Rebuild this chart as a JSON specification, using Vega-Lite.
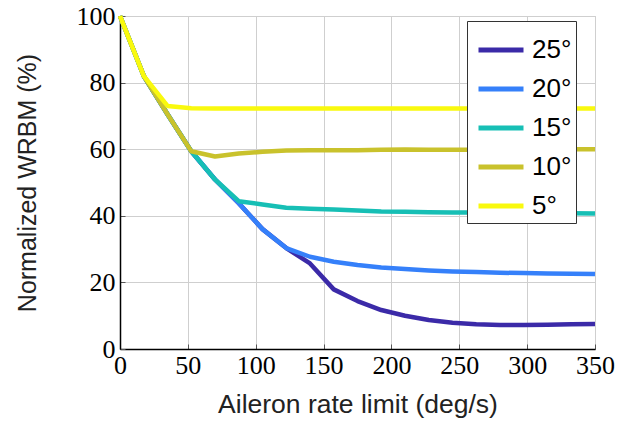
{
  "$schema": "https://vega.github.io/schema/vega-lite/v6.json",
  "width": 475,
  "height": 333,
  "autosize": {"type": "none"},
  "padding": {"left": 120, "top": 16, "right": 35, "bottom": 81},
  "background": "white",
  "config": {
    "view": {"stroke": "#c8c8c8", "strokeWidth": 1},
    "axis": {
      "grid": true, "gridColor": "#cfcfcf", "gridWidth": 1,
      "domainColor": "#000000", "domainWidth": 1.5,
      "tickColor": "#555555", "tickSize": -5, "tickWidth": 1,
      "labelFont": "Liberation Serif", "labelFontSize": 26, "labelColor": "#000000",
      "titleFont": "Liberation Sans", "titleFontWeight": "normal", "titleColor": "#222222"
    }
  },
  "data": {
    "values": [
      {"angle": "25°", "x": 0, "y": 100}, {"angle": "25°", "x": 17.5, "y": 82}, {"angle": "25°", "x": 35, "y": 70.5}, {"angle": "25°", "x": 52.5, "y": 59.4}, {"angle": "25°", "x": 70, "y": 50.9}, {"angle": "25°", "x": 87.5, "y": 43.8}, {"angle": "25°", "x": 105, "y": 36}, {"angle": "25°", "x": 122.5, "y": 30.3}, {"angle": "25°", "x": 140, "y": 25.7}, {"angle": "25°", "x": 157.5, "y": 17.9}, {"angle": "25°", "x": 175, "y": 14.4}, {"angle": "25°", "x": 192.5, "y": 11.7}, {"angle": "25°", "x": 210, "y": 10}, {"angle": "25°", "x": 227.5, "y": 8.7}, {"angle": "25°", "x": 245, "y": 7.9}, {"angle": "25°", "x": 262.5, "y": 7.4}, {"angle": "25°", "x": 280, "y": 7.2}, {"angle": "25°", "x": 297.5, "y": 7.2}, {"angle": "25°", "x": 315, "y": 7.3}, {"angle": "25°", "x": 332.5, "y": 7.4}, {"angle": "25°", "x": 350, "y": 7.5},
      {"angle": "20°", "x": 0, "y": 100}, {"angle": "20°", "x": 17.5, "y": 82}, {"angle": "20°", "x": 35, "y": 70.5}, {"angle": "20°", "x": 52.5, "y": 59.4}, {"angle": "20°", "x": 70, "y": 50.9}, {"angle": "20°", "x": 87.5, "y": 43.8}, {"angle": "20°", "x": 105, "y": 36}, {"angle": "20°", "x": 122.5, "y": 30.3}, {"angle": "20°", "x": 140, "y": 27.7}, {"angle": "20°", "x": 157.5, "y": 26.2}, {"angle": "20°", "x": 175, "y": 25.2}, {"angle": "20°", "x": 192.5, "y": 24.5}, {"angle": "20°", "x": 210, "y": 24}, {"angle": "20°", "x": 227.5, "y": 23.6}, {"angle": "20°", "x": 245, "y": 23.3}, {"angle": "20°", "x": 262.5, "y": 23.1}, {"angle": "20°", "x": 280, "y": 22.9}, {"angle": "20°", "x": 297.5, "y": 22.8}, {"angle": "20°", "x": 315, "y": 22.7}, {"angle": "20°", "x": 332.5, "y": 22.6}, {"angle": "20°", "x": 350, "y": 22.5},
      {"angle": "15°", "x": 0, "y": 100}, {"angle": "15°", "x": 17.5, "y": 82}, {"angle": "15°", "x": 35, "y": 70.5}, {"angle": "15°", "x": 52.5, "y": 59.4}, {"angle": "15°", "x": 70, "y": 50.9}, {"angle": "15°", "x": 87.5, "y": 44.4}, {"angle": "15°", "x": 105, "y": 43.4}, {"angle": "15°", "x": 122.5, "y": 42.4}, {"angle": "15°", "x": 140, "y": 42.1}, {"angle": "15°", "x": 157.5, "y": 41.9}, {"angle": "15°", "x": 175, "y": 41.6}, {"angle": "15°", "x": 192.5, "y": 41.3}, {"angle": "15°", "x": 210, "y": 41.2}, {"angle": "15°", "x": 227.5, "y": 41.1}, {"angle": "15°", "x": 245, "y": 41}, {"angle": "15°", "x": 262.5, "y": 41}, {"angle": "15°", "x": 280, "y": 40.9}, {"angle": "15°", "x": 297.5, "y": 40.9}, {"angle": "15°", "x": 315, "y": 40.8}, {"angle": "15°", "x": 332.5, "y": 40.8}, {"angle": "15°", "x": 350, "y": 40.7},
      {"angle": "10°", "x": 0, "y": 100}, {"angle": "10°", "x": 17.5, "y": 82}, {"angle": "10°", "x": 35, "y": 70.5}, {"angle": "10°", "x": 52.5, "y": 59.4}, {"angle": "10°", "x": 70, "y": 57.8}, {"angle": "10°", "x": 87.5, "y": 58.7}, {"angle": "10°", "x": 105, "y": 59.2}, {"angle": "10°", "x": 122.5, "y": 59.6}, {"angle": "10°", "x": 140, "y": 59.7}, {"angle": "10°", "x": 157.5, "y": 59.7}, {"angle": "10°", "x": 175, "y": 59.7}, {"angle": "10°", "x": 192.5, "y": 59.8}, {"angle": "10°", "x": 210, "y": 59.9}, {"angle": "10°", "x": 227.5, "y": 59.8}, {"angle": "10°", "x": 245, "y": 59.8}, {"angle": "10°", "x": 262.5, "y": 59.8}, {"angle": "10°", "x": 280, "y": 59.9}, {"angle": "10°", "x": 297.5, "y": 59.9}, {"angle": "10°", "x": 315, "y": 59.9}, {"angle": "10°", "x": 332.5, "y": 60}, {"angle": "10°", "x": 350, "y": 60},
      {"angle": "5°", "x": 0, "y": 100}, {"angle": "5°", "x": 17.5, "y": 82}, {"angle": "5°", "x": 35, "y": 73}, {"angle": "5°", "x": 52.5, "y": 72.3}, {"angle": "5°", "x": 70, "y": 72.2}, {"angle": "5°", "x": 87.5, "y": 72.2}, {"angle": "5°", "x": 105, "y": 72.2}, {"angle": "5°", "x": 122.5, "y": 72.2}, {"angle": "5°", "x": 140, "y": 72.2}, {"angle": "5°", "x": 157.5, "y": 72.2}, {"angle": "5°", "x": 175, "y": 72.2}, {"angle": "5°", "x": 192.5, "y": 72.2}, {"angle": "5°", "x": 210, "y": 72.2}, {"angle": "5°", "x": 227.5, "y": 72.2}, {"angle": "5°", "x": 245, "y": 72.2}, {"angle": "5°", "x": 262.5, "y": 72.2}, {"angle": "5°", "x": 280, "y": 72.2}, {"angle": "5°", "x": 297.5, "y": 72.2}, {"angle": "5°", "x": 315, "y": 72.2}, {"angle": "5°", "x": 332.5, "y": 72.2}, {"angle": "5°", "x": 350, "y": 72.2}
    ]
  },
  "mark": {"type": "line", "strokeWidth": 4.5, "strokeJoin": "round"},
  "encoding": {
    "x": {
      "field": "x", "type": "quantitative",
      "scale": {"domain": [0, 350], "nice": false},
      "axis": {"values": [0, 50, 100, 150, 200, 250, 300, 350], "title": "Aileron rate limit (deg/s)", "titleFontSize": 26.5, "labelPadding": 8, "titlePadding": 13, "labelFlush": false}
    },
    "y": {
      "field": "y", "type": "quantitative",
      "scale": {"domain": [0, 100], "nice": false},
      "axis": {"values": [0, 20, 40, 60, 80, 100], "title": "Normalized WRBM (%)", "titleFontSize": 25, "labelPadding": 10, "titlePadding": 36, "labelFlush": false}
    },
    "color": {
      "field": "angle", "type": "nominal",
      "scale": {
        "domain": ["25°", "20°", "15°", "10°", "5°"],
        "range": ["#3b2aa8", "#3580fa", "#17bfb5", "#c9c22c", "#f9f90e"]
      },
      "legend": {
        "title": null, "orient": "none", "legendX": 347, "legendY": 5,
        "symbolType": "stroke", "symbolSize": 2025, "symbolStrokeWidth": 5,
        "symbolOffset": 5,
        "labelFont": "Liberation Sans", "labelFontSize": 26, "labelColor": "#000000",
        "labelOffset": 6, "rowPadding": 1,
        "labelExpr": "datum.label === '5°' ? '\u00a05°' : datum.label",
        "padding": 4, "strokeColor": "#333333", "fillColor": "white",
        "labelLimit": 200
      }
    },
    "order": {"field": "x", "type": "quantitative"}
  }
}
